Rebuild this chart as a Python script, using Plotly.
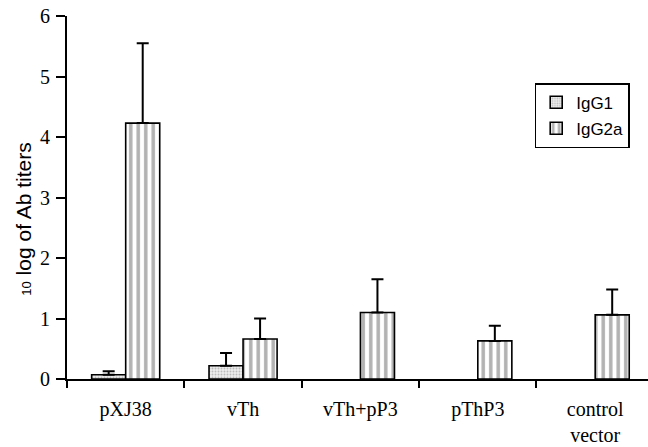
import plotly.graph_objects as go

categories = ["pXJ38", "vTh", "vTh+pP3", "pThP3", "control<br>vector"]
igg1_values = [0.07, 0.22, None, None, None]
igg1_errors = [0.06, 0.21, None, None, None]
igg2a_values = [4.23, 0.66, 1.10, 0.63, 1.06]
igg2a_errors = [1.32, 0.34, 0.55, 0.25, 0.42]
y_ticks = [0, 1, 2, 3, 4, 5, 6]

serif = "Liberation Serif, Times New Roman, serif"
sans = "Liberation Sans, Arial, sans-serif"

fig = go.Figure()
fig.add_trace(go.Bar(
    name="IgG1", x=categories, y=igg1_values, legendgroup="a",
    marker=dict(color="#e6e6e6", line=dict(color="black", width=1.6),
                pattern=dict(shape=".", fgcolor="#8a8a8a", bgcolor="#ececec",
                             size=3, solidity=0.3)),
    error_y=dict(type="data", array=igg1_errors, arrayminus=[0]*5, symmetric=False,
                 color="black", thickness=2, width=6),
))
fig.add_trace(go.Bar(
    name="IgG2a", x=categories, y=igg2a_values, legendgroup="b",
    marker=dict(color="white", line=dict(color="black", width=1.6),
                pattern=dict(shape="|", fgcolor="#666666", bgcolor="white",
                             size=7.5, solidity=0.47)),
    error_y=dict(type="data", array=igg2a_errors, arrayminus=[0]*5, symmetric=False,
                 color="black", thickness=2, width=6),
))

fig.update_layout(
    width=648, height=447,
    margin=dict(l=67, r=0, t=16, b=68),
    paper_bgcolor="white", plot_bgcolor="white",
    barmode="group", bargap=0.42, bargroupgap=0,
    showlegend=True,
    legend=dict(x=0.805, y=0.815, xanchor="left", yanchor="top",
                bordercolor="black", borderwidth=1.5, bgcolor="white",
                font=dict(family=sans, size=17, color="black"),
                tracegroupgap=1, itemwidth=30),
    xaxis=dict(range=[-0.5, 4.45], showline=True, linecolor="black", linewidth=2,
               ticks="outside", ticklen=7, tickwidth=2, tickcolor="black",
               tickson="boundaries", showgrid=False, zeroline=False,
               automargin=False,
               tickfont=dict(family=serif, size=20, color="black"),
               ticklabelstandoff=11),
    yaxis=dict(range=[0, 6], tickvals=y_ticks, showline=True, linecolor="black",
               linewidth=2, ticks="outside", ticklen=9, tickwidth=2, tickcolor="black",
               showgrid=False, zeroline=False, automargin=False,
               tickfont=dict(family=serif, size=20, color="black"),
               ticklabelstandoff=2),
    annotations=[dict(
        text="<span style='font-size:13px'>10</span> log of Ab titers",
        xref="paper", yref="paper", x=-0.075, y=0.44,
        xanchor="center", yanchor="middle", textangle=-90, showarrow=False,
        font=dict(family=sans, size=21, color="black"))],
)

fig.write_html("out.html")
